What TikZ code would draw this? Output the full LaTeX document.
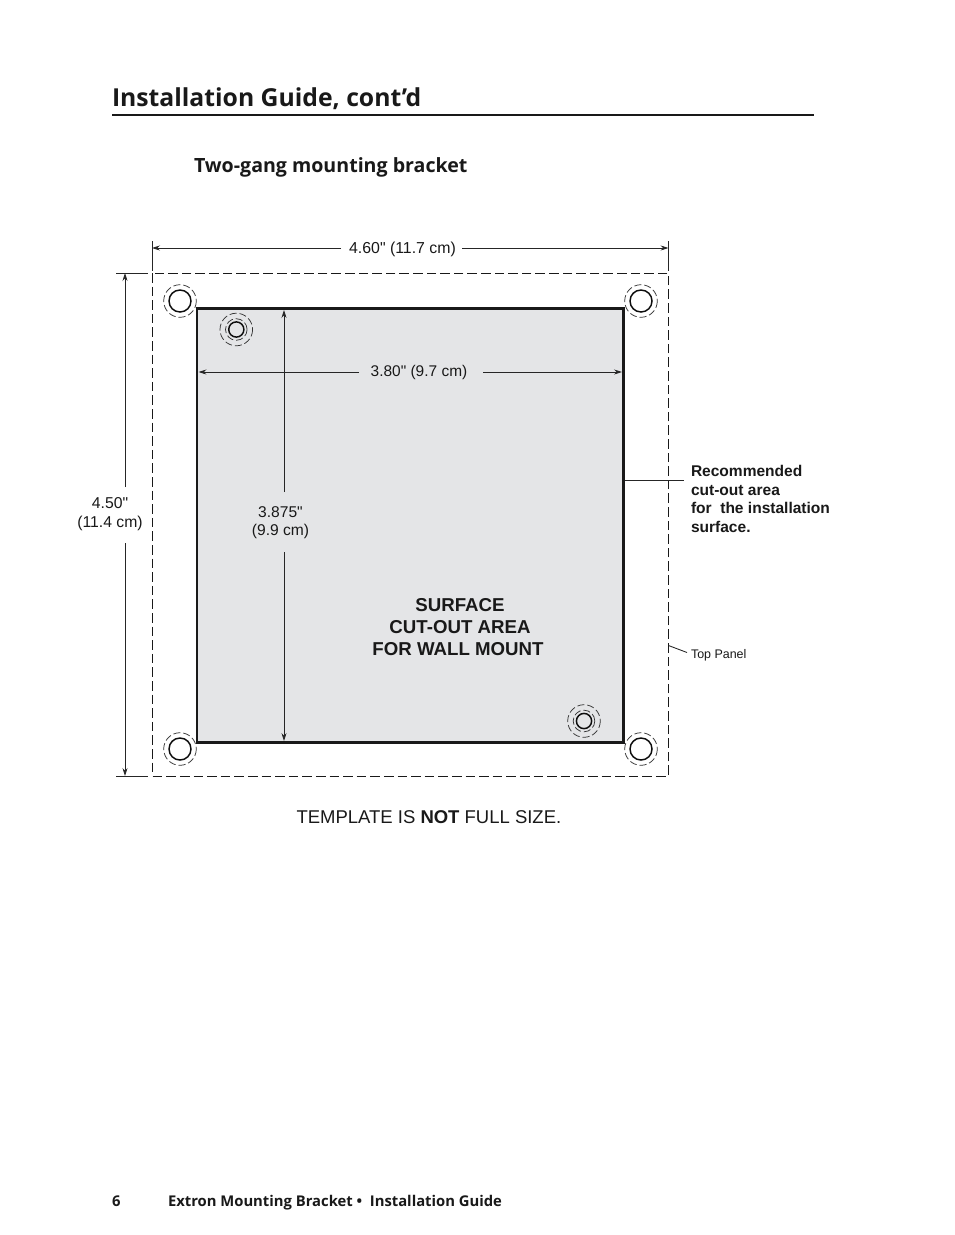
\documentclass[tikz,border=0pt]{standalone}
\usepackage{fontspec}
\newfontfamily\lib{Liberation Sans}
\newfontfamily\headfont{Open Sans}
\usetikzlibrary{arrows.meta}
\newcommand{\fs}[2]{\fontsize{#1pt}{#2pt}\selectfont}
\definecolor{cutgrey}{HTML}{E4E5E7}
\tikzset{
  x=0.75pt,y=-0.75pt,
  txt/.style={inner sep=0,outer sep=0,anchor=base west,text=black!90,font=\lib},
  ctr/.style={inner sep=0,outer sep=0,anchor=base,text=black!90,font=\lib},
  dimline/.style={draw=black!85,line width=0.65pt},
  thinline/.style={draw=black!85,line width=0.65pt},
  arrowend/.style={-{Stealth[length=6pt,width=3.8pt]}},
  dashbox/.style={draw=black!90,line width=0.75pt,dash pattern=on 7.2pt off 3pt},
  holedash/.style={draw=black!80,line width=0.55pt,dash pattern=on 5.3pt off 2.2pt},
  holering/.style={draw=black!95,line width=1.1pt},
}
\begin{document}
\begin{tikzpicture}
\useasboundingbox (0,0) rectangle (954,1235);
\fill[white] (0,0) rectangle (954,1235);

% header
\node[txt] (title) at (112,106) {\headfont\bfseries\fs{18.55}{20}Installation Guide, cont’d};
\coordinate (ruleL) at (112,115);
\coordinate (ruleR) at (814,115);
\draw[line width=1.6pt,black!90] (ruleL) -- (ruleR);
\node[txt] (sub) at (194,172) {\headfont\bfseries\fs{14.7}{16}Two-gang mounting bracket};

% dashed panel
\coordinate (pTL) at (152.5,273);
\coordinate (pBR) at (668.5,776);
\draw[dashbox] (pTL) rectangle (pBR);

% cut-out
\coordinate (cTL) at (197,308.5);
\coordinate (cBR) at (623.5,742.5);
\draw[fill=cutgrey,draw=black!90,line width=2.2pt] (cTL) rectangle (cBR);

% corner holes
\foreach \n/\cx/\cy in {a/180/301,b/641/301,c/180/749,d/641/749}{
  \coordinate (h\n) at (\cx,\cy);
  \draw[holering] (h\n) circle[radius=11];
  \draw[holedash] (h\n) circle[radius=16.3];
}
% inner holes
\foreach \n/\cx/\cy in {e/236.3/329.5,f/584/721}{
  \coordinate (h\n) at (\cx,\cy);
  \draw[holering] (h\n) circle[radius=7.6];
  \draw[holedash] (h\n) circle[radius=10.8];
  \draw[holedash] (h\n) circle[radius=16.3];
}

% top dimension
\coordinate (tL) at (152,248);
\coordinate (tR) at (668.5,248);
\coordinate (tLa) at (152,241);
\coordinate (tLb) at (152,271);
\coordinate (tRa) at (668.5,241);
\coordinate (tRb) at (668.5,271);
\node[ctr] (dimT) at (402.5,253) {\fs{11.9}{13}4.60" (11.7 cm)};
\coordinate (tG1) at (341,248);
\coordinate (tG2) at (462,248);
\draw[thinline] (tLa) -- (tLb);
\draw[thinline] (tRa) -- (tRb);
\draw[dimline,arrowend] (tG1) -- (tL);
\draw[dimline,arrowend] (tG2) -- (tR);

% left dimension
\coordinate (lT) at (125,273);
\coordinate (lB) at (125,776);
\coordinate (lTa) at (116,273);
\coordinate (lTb) at (148,273);
\coordinate (lBa) at (116,776);
\coordinate (lBb) at (148,776);
\node[ctr] (dimL1) at (110,508) {\fs{11.8}{13}4.50"};
\node[ctr] (dimL2) at (110,527) {\fs{11.8}{13}(11.4 cm)};
\coordinate (lG1) at (125,487);
\coordinate (lG2) at (125,543);
\draw[thinline] (lTa) -- (lTb);
\draw[thinline] (lBa) -- (lBb);
\draw[dimline,arrowend] (lG1) -- (lT);
\draw[dimline,arrowend] (lG2) -- (lB);

% inner horizontal dimension
\coordinate (iL) at (198.5,372);
\coordinate (iR) at (622,372);
\coordinate (iG1) at (359,372);
\coordinate (iG2) at (483,372);
\node[ctr] (dimI) at (419,376) {\fs{11.6}{13}3.80" (9.7 cm)};
\draw[dimline,arrowend] (iG1) -- (iL);
\draw[dimline,arrowend] (iG2) -- (iR);

% inner vertical dimension
\coordinate (vT) at (284,310);
\coordinate (vB) at (284,741);
\coordinate (vG1) at (284,492);
\coordinate (vG2) at (284,552);
\node[ctr] (dimV1) at (280.5,517) {\fs{11.7}{13}3.875"};
\node[ctr] (dimV2) at (280.5,535) {\fs{11.7}{13}(9.9 cm)};
\draw[dimline,arrowend] (vG1) -- (vT);
\draw[dimline,arrowend] (vG2) -- (vB);

% centre label
\node[ctr] (s1) at (460,611) {\bfseries\fs{14}{16}SURFACE};
\node[ctr] (s2) at (460,633) {\bfseries\fs{14}{16}CUT-OUT AREA};
\node[ctr] (s3) at (458,655) {\bfseries\fs{14}{16}FOR WALL MOUNT};

% callouts
\coordinate (lead1a) at (625,480);
\coordinate (lead1b) at (684,480);
\draw[thinline] (lead1a) -- (lead1b);
\node[txt] (r1) at (691,476) {\bfseries\fs{11.65}{13}Recommended};
\node[txt] (r2) at (691,495) {\bfseries\fs{11.65}{13}cut-out area};
\node[txt] (r3) at (691,513) {\bfseries\fs{11.65}{13}for\ \ the installation};
\node[txt] (r4) at (691,532) {\bfseries\fs{11.65}{13}surface.};
\coordinate (lead2a) at (668.5,645.5);
\coordinate (lead2b) at (687,652.5);
\draw[thinline] (lead2a) -- (lead2b);
\node[txt] (tp) at (691,658) {\fs{9.35}{11}Top Panel};

% note
\node[txt] (note) at (296.5,823) {\fs{13.87}{15}TEMPLATE IS \textbf{NOT} FULL SIZE.};

% footer
\node[txt] (pg) at (112,1206) {\headfont\bfseries\fs{11.1}{13}6};
\node[txt] (ft) at (168,1206) {\headfont\bfseries\fs{11.1}{13}Extron Mounting Bracket •\ \ Installation Guide};
\end{tikzpicture}
\end{document}
